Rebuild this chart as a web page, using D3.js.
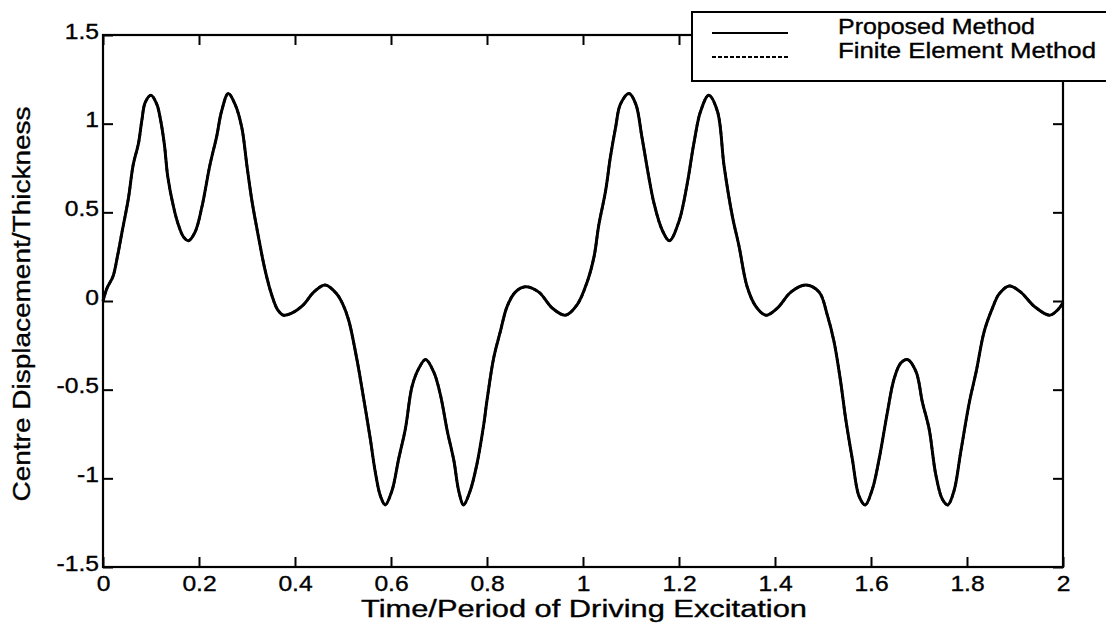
<!DOCTYPE html>
<html>
<head>
<meta charset="utf-8">
<script src="https://cdn.jsdelivr.net/npm/d3@7"></script>
<style>
  body { margin: 0; background: #fff; }
  svg { display: block; }
  text { font-family: "Liberation Sans", Arial, Helvetica, sans-serif; fill: #000; stroke: #000; stroke-width: 0.35px; }
</style>
</head>
<body>
<svg id="chart"></svg>
<script>
// Time / period of driving excitation
const timeValues = [
  0.000, 0.008, 0.021, 0.030, 0.039, 0.053, 0.063, 0.074, 0.081, 0.088,
  0.100, 0.112, 0.120, 0.128, 0.135, 0.147, 0.157, 0.168, 0.178, 0.192,
  0.206, 0.223, 0.237, 0.247, 0.261, 0.275, 0.289, 0.300, 0.310, 0.324,
  0.338, 0.352, 0.364, 0.376, 0.392, 0.418, 0.439, 0.463, 0.487, 0.500,
  0.512, 0.529, 0.543, 0.557, 0.567, 0.578, 0.588, 0.602, 0.616, 0.630,
  0.644, 0.658, 0.672, 0.689, 0.703, 0.717, 0.731, 0.741, 0.751, 0.765,
  0.779, 0.793, 0.800, 0.814, 0.828, 0.842, 0.859, 0.880, 0.908, 0.936,
  0.963, 0.988, 1.009, 1.023, 1.033, 1.047, 1.057, 1.068, 1.078, 1.096,
  1.110, 1.123, 1.137, 1.148, 1.165, 1.180, 1.200, 1.217, 1.231, 1.245,
  1.262, 1.280, 1.294, 1.311, 1.325, 1.342, 1.360, 1.381, 1.405, 1.433,
  1.464, 1.492, 1.509, 1.523, 1.537, 1.547, 1.561, 1.575, 1.588, 1.603,
  1.617, 1.634, 1.648, 1.662, 1.676, 1.694, 1.707, 1.721, 1.735, 1.749,
  1.760, 1.773, 1.787, 1.805, 1.819, 1.836, 1.853, 1.867, 1.888, 1.912,
  1.940, 1.972, 1.989, 2.000
];

// Centre displacement / thickness, proposed method
const proposedValues = [
  0.00, 0.07, 0.14, 0.25, 0.38, 0.58, 0.77, 0.89, 1.02, 1.12,
  1.16, 1.11, 1.02, 0.88, 0.70, 0.53, 0.43, 0.36, 0.34, 0.39,
  0.53, 0.77, 0.93, 1.07, 1.17, 1.11, 0.98, 0.76, 0.57, 0.36,
  0.17, 0.03, -0.05, -0.08, -0.07, -0.02, 0.05, 0.09, 0.04, -0.02,
  -0.11, -0.33, -0.55, -0.78, -0.96, -1.10, -1.15, -1.07, -0.89, -0.72,
  -0.48, -0.38, -0.33, -0.40, -0.53, -0.73, -0.90, -1.07, -1.15, -1.07,
  -0.92, -0.70, -0.56, -0.32, -0.17, -0.03, 0.05, 0.08, 0.05, -0.04,
  -0.08, -0.02, 0.11, 0.25, 0.43, 0.62, 0.81, 0.98, 1.11, 1.17,
  1.11, 0.92, 0.70, 0.55, 0.40, 0.34, 0.45, 0.66, 0.89, 1.07,
  1.16, 1.07, 0.76, 0.48, 0.31, 0.08, -0.03, -0.08, -0.04, 0.05,
  0.09, 0.05, -0.08, -0.23, -0.46, -0.66, -0.89, -1.10, -1.15, -1.06,
  -0.89, -0.63, -0.44, -0.35, -0.33, -0.40, -0.57, -0.72, -0.98, -1.12,
  -1.15, -1.07, -0.85, -0.57, -0.40, -0.17, -0.04, 0.04, 0.085, 0.05,
  -0.03, -0.08, -0.05, -0.01
];

// finite element result lies on top of the proposed curve in the picture
const femValues = proposedValues.slice();

const xTicks = [0, 0.2, 0.4, 0.6, 0.8, 1, 1.2, 1.4, 1.6, 1.8, 2];
const yTicks = [-1.5, -1, -0.5, 0, 0.5, 1, 1.5];
const legendLabels = ["Proposed Method", "Finite Element Method"];
const xTitle = "Time/Period of Driving Excitation";
const yTitle = "Centre Displacement/Thickness";

const width = 1106, height = 637;
const plot = { left: 103, right: 1063, top: 35, bottom: 567 };
const tickStretch = 1.12; // scanned lettering is a little wider than Arial

const svg = d3.select("#chart").attr("width", width).attr("height", height);

const x = d3.scaleLinear().domain([0, 2]).range([plot.left, plot.right]);
const y = d3.scaleLinear().domain([-1.5, 1.5]).range([plot.bottom, plot.top]);

function fitText(sel, lengthFn) {
  sel.each(function (d, i) {
    const w = this.getComputedTextLength();
    d3.select(this).attr("textLength", lengthFn(w, i)).attr("lengthAdjust", "spacingAndGlyphs");
  });
}

// curves
const pts = (vals) => timeValues.map((t, i) => [t, vals[i]]);
const line = d3.line().x(d => x(d[0])).y(d => y(d[1])).curve(d3.curveCatmullRom);

svg.append("path")
  .attr("d", line(pts(femValues)))
  .attr("fill", "none").attr("stroke", "#000")
  .attr("stroke-width", 2.6).attr("stroke-dasharray", "4,2");

svg.append("path")
  .attr("d", line(pts(proposedValues)))
  .attr("fill", "none").attr("stroke", "#000")
  .attr("stroke-width", 3).attr("stroke-linejoin", "round");

// axes (ticks pointing inward)
const fmt = d => String(d);

svg.append("g")
  .attr("transform", `translate(0,${plot.bottom})`)
  .call(d3.axisBottom(x).tickValues(xTicks).tickSizeInner(-10).tickSizeOuter(0).tickPadding(8).tickFormat(fmt));

const yAxis = svg.append("g")
  .attr("transform", `translate(${plot.left},0)`)
  .call(d3.axisLeft(y).tickValues(yTicks).tickSizeInner(-10).tickSizeOuter(0).tickPadding(4).tickFormat(fmt));
yAxis.selectAll(".tick text").attr("y", -4);

svg.append("g")
  .attr("transform", `translate(0,${plot.top})`)
  .call(d3.axisTop(x).tickValues(xTicks).tickSizeInner(-10).tickSizeOuter(0).tickFormat(""));

svg.append("g")
  .attr("transform", `translate(${plot.right},0)`)
  .call(d3.axisRight(y).tickValues(yTicks).tickSizeInner(-10).tickSizeOuter(0).tickFormat(""));

svg.selectAll(".domain").remove();
svg.selectAll(".tick line").attr("stroke", "#000").attr("stroke-width", 2);
svg.selectAll(".tick text").style("font-size", "22px").attr("fill", "#000").attr("stroke", "#000");

svg.append("rect")
  .attr("x", plot.left).attr("y", plot.top)
  .attr("width", plot.right - plot.left).attr("height", plot.bottom - plot.top)
  .attr("fill", "none").attr("stroke", "#000").attr("stroke-width", 2.2);

fitText(svg.selectAll(".tick text"), w => w * tickStretch);

// axis titles
svg.append("text")
  .attr("class", "xtitle")
  .attr("x", 584).attr("y", 617)
  .attr("text-anchor", "middle")
  .style("font-size", "23px")
  .text(xTitle);
fitText(svg.selectAll(".xtitle"), () => 446);

svg.append("text")
  .attr("class", "ytitle")
  .attr("transform", `translate(30,304) rotate(-90)`)
  .attr("text-anchor", "middle")
  .style("font-size", "23px")
  .text(yTitle);
fitText(svg.selectAll(".ytitle"), () => 395);

// legend box over the top-right corner
const lg = svg.append("g");
lg.append("rect")
  .attr("x", 692).attr("y", 12)
  .attr("width", 500).attr("height", 69)
  .attr("fill", "#fff").attr("stroke", "#000").attr("stroke-width", 2);

const legendDash = [null, "4,2"];
const legendWidths = [197, 258];
legendLabels.forEach((lab, i) => {
  const ly = 33 + i * 24;
  lg.append("line")
    .attr("x1", 712).attr("x2", 788)
    .attr("y1", ly).attr("y2", ly)
    .attr("stroke", "#000").attr("stroke-width", 2)
    .attr("stroke-dasharray", legendDash[i]);
  lg.append("text")
    .attr("class", "legtext")
    .attr("x", 838).attr("y", ly + 1)
    .style("font-size", "22px")
    .text(lab);
});
fitText(lg.selectAll(".legtext"), (w, i) => legendWidths[i]);
</script>
</body>
</html>
